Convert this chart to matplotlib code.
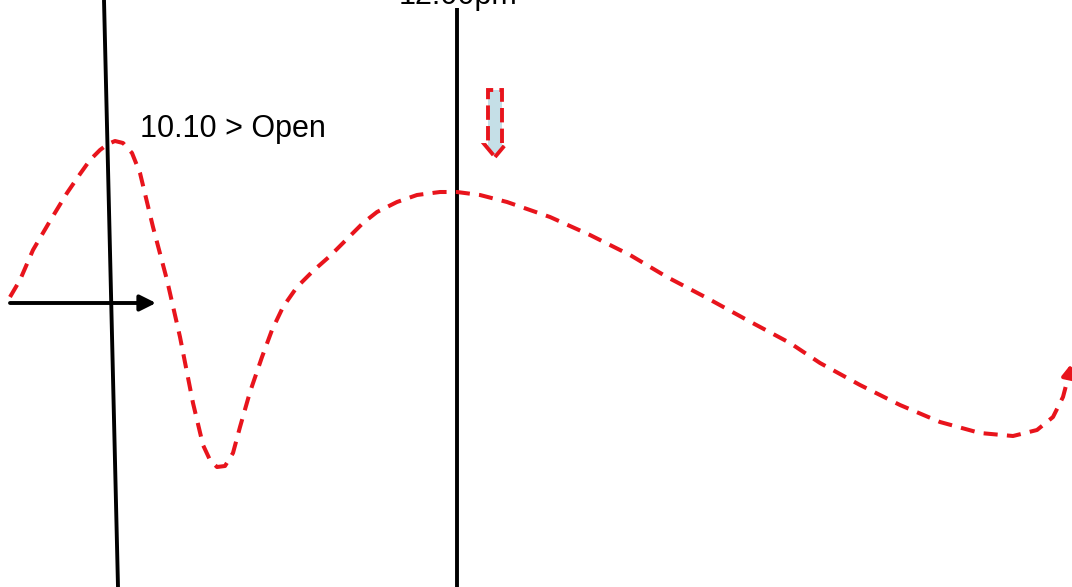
import numpy as np
import matplotlib
matplotlib.use("Agg")
import matplotlib.pyplot as plt
import matplotlib.patches as mpatches

# dashed red path (pixel coords, y down)
curve_x = [10, 20, 33, 50, 67, 80, 90, 100, 108, 115, 123, 132, 140, 153, 167, 180, 193, 203, 210,
           217, 225, 233, 240, 250, 262, 272, 283, 297, 313, 330, 347, 363, 377, 397, 417, 440, 457,
           480, 507, 550, 590, 630, 667, 707, 747, 790, 820, 860, 900, 940, 980, 1013, 1037, 1053, 1063, 1068]
curve_y = [297, 280, 250, 221, 193, 174, 160, 150, 144, 141, 143, 153, 173, 227, 280, 337, 403, 445, 460,
           467, 466, 453, 427, 392, 357, 330, 307, 287, 271, 256, 239, 223, 212, 202, 195, 192, 192,
           195, 202, 217, 235, 255, 277, 298, 320, 343, 363, 385, 405, 422, 433, 436, 430, 417, 397, 378]

# black guide lines
vline_x_top = [104, 457]
vline_y_top = [0, 8]
vline_x_bot = [118, 457]

labels = ["10.10 > Open", "12:00pm"]
label_x = [140, 458]
label_y = [137, 4]

red = "#e8141c"

fig = plt.figure(figsize=(10.72, 5.87), dpi=100)
ax = fig.add_axes([0, 0, 1, 1])
ax.set_xlim(0, 1072)
ax.set_ylim(587, 0)
ax.axis("off")

for xt, yt, xb in zip(vline_x_top, vline_y_top, vline_x_bot):
    ax.plot([xt, xb], [yt, 587], color="black", lw=2.8, solid_capstyle="butt")

# horizontal arrow
ax.annotate("", xy=(156, 303), xytext=(10, 303),
            arrowprops=dict(arrowstyle="-|>", color="black", lw=2.8, mutation_scale=24,
                            shrinkA=0, shrinkB=0))

ax.plot(curve_x, curve_y, color=red, lw=2.9, dashes=(3.5, 2.3), solid_joinstyle="round")
ax.annotate("", xy=(1071, 364), xytext=(curve_x[-1], curve_y[-1]),
            arrowprops=dict(arrowstyle="-|>", color=red, lw=2.9, mutation_scale=18,
                            shrinkA=0, shrinkB=0))

# block arrow pointing down
blk = mpatches.FancyArrow(495, 90, 0, 67, width=14, head_width=20, head_length=12,
                          length_includes_head=True, fc="#c5dfe7", ec=red, lw=2.8, ls="--")
ax.add_patch(blk)

ax.text(label_x[0], label_y[0], labels[0], fontsize=22, family="Liberation Sans",
        ha="left", va="baseline")
ax.text(label_x[1], label_y[1], labels[1], fontsize=22, family="Liberation Sans",
        ha="center", va="baseline")

fig.savefig("out.png", dpi=100)
